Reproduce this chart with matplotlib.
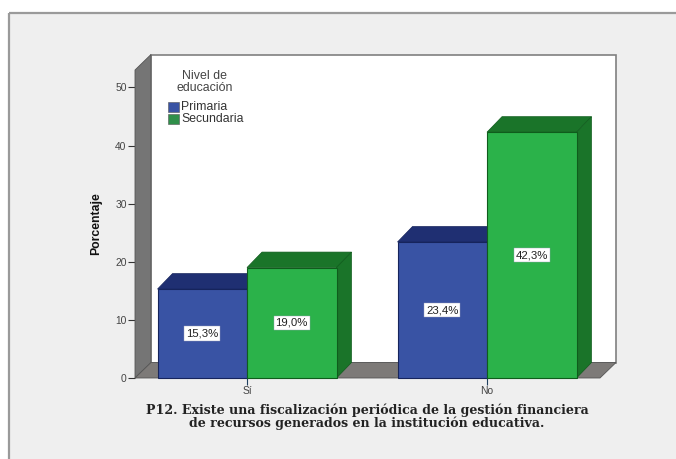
import matplotlib
matplotlib.use("Agg")
import matplotlib.pyplot as plt
from matplotlib.patches import Polygon, Rectangle

categories = ["Sí", "No"]
series_names = ["Primaria", "Secundaria"]
primaria = [15.3, 23.4]
secundaria = [19.0, 42.3]
value_labels = [["15,3%", "23,4%"], ["19,0%", "42,3%"]]
y_ticks = [0, 10, 20, 30, 40, 50]
legend_title = "Nivel de\neducación"
y_label = "Porcentaje"
x_title = ("P12. Existe una fiscalización periódica de la gestión financiera\n"
           "de recursos generados en la institución educativa.")

W, H = 676, 459
fig = plt.figure(figsize=(W / 100, H / 100), dpi=100, facecolor="white")

# panel background (no right/bottom border in the reference)
bg = fig.add_axes([0, 0, 1, 1], zorder=0)
bg.set_xlim(0, W); bg.set_ylim(H, 0); bg.axis("off")
bg.add_patch(Rectangle((9, 13), W, H, fc="#efefef", ec="none"))
bg.plot([9, 9], [H, 13], color="#9a9a9a", lw=1.6, solid_capstyle="butt")
bg.plot([9, W], [13, 13], color="#9a9a9a", lw=1.6, solid_capstyle="butt")

# main axes: front plane of the 3-D box
L, R, T, B = 135, 600, 70, 378
ax = fig.add_axes([L / W, 1 - B / H, (R - L) / W, (B - T) / H], zorder=1)
PX_PER_CAT = 240.0
ax.set_xlim((L - 247) / PX_PER_CAT, (R - 247) / PX_PER_CAT)
ymax = 53.0
ax.set_ylim(0, ymax)
ax.patch.set_visible(False)
for s in ax.spines.values():
    s.set_visible(False)

ppv = (B - T) / ymax
dx = 16 / PX_PER_CAT
dy = 15.5 / ppv
x0, x1 = ax.get_xlim()

GREY_WALL = "#757575"
GREY_FLOOR = "#7d7a78"
EDGE_GREY = "#555555"
kw = dict(clip_on=False)

# back wall, left wall, floor
ax.add_patch(Polygon([(x0 + dx, dy), (x1 + dx, dy), (x1 + dx, ymax + dy), (x0 + dx, ymax + dy)],
                     fc="white", ec="#808080", lw=1.2, zorder=1, **kw))
ax.add_patch(Polygon([(x0, 0), (x0 + dx, dy), (x0 + dx, ymax + dy), (x0, ymax)],
                     fc=GREY_WALL, ec=EDGE_GREY, lw=0.6, zorder=2, **kw))
ax.add_patch(Polygon([(x0, 0), (x1, 0), (x1 + dx, dy), (x0 + dx, dy)],
                     fc=GREY_FLOOR, ec=EDGE_GREY, lw=0.6, zorder=2, **kw))

width = 89.5 / PX_PER_CAT
d_bar = 15 / PX_PER_CAT
d_val = 15.5 / ppv
styles = [("#3953a4", "#1f2f72", "#16245c"), ("#2bb24a", "#1a7429", "#0f5c1c")]
all_series = [primaria, secundaria]

# draw order: left-to-right so the front face of the neighbour overlaps the depth
for c in range(len(categories)):
    for s, vals in enumerate(all_series):
        v = vals[c]
        left = c - width if s == 0 else c
        right = left + width
        front, side, edge = styles[s]
        z = 3 + c + s * 0.1
        ax.add_patch(Polygon([(left, v), (right, v), (right + d_bar, v + d_val), (left + d_bar, v + d_val)],
                             fc=side, ec=edge, lw=0.5, zorder=z, **kw))
        ax.add_patch(Polygon([(right, 0), (right + d_bar, d_val), (right + d_bar, v + d_val), (right, v)],
                             fc=side, ec=edge, lw=0.5, zorder=z, **kw))
        ax.add_patch(Rectangle((left, 0), width, v, fc=front, ec=edge, lw=0.8, zorder=z + 0.01, **kw))

for c in range(len(categories)):
    for s, vals in enumerate(all_series):
        v = vals[c]
        left = c - width if s == 0 else c
        ax.text(left + width / 2, v / 2, value_labels[s][c], ha="center", va="center",
                fontsize=8.2, color="#222222", family="Liberation Sans", zorder=10,
                bbox=dict(fc="white", ec="#9aa0b8", lw=0.3, pad=1.5))

ax.set_yticks(y_ticks)
ax.set_xticks(range(len(categories)))
ax.set_xticklabels(categories)
ax.tick_params(axis="y", length=5, width=0.8, color="#333333", labelsize=7.4,
               labelcolor="#444444", pad=1)
ax.tick_params(axis="x", length=5, width=0.8, color="#1f3f5f", labelsize=7.4,
               labelcolor="#444444", pad=1)
for lab in ax.get_xticklabels() + ax.get_yticklabels():
    lab.set_family("Liberation Sans")

ax.set_ylabel(y_label, fontsize=8.8, fontweight="bold", family="Liberation Sans",
              color="#111111", labelpad=0)
ax.yaxis.set_label_coords((102 - L) / (R - L), (B - 224) / (B - T))

fig.text(367 / W, 1 - 417 / H, x_title, ha="center", va="center", fontsize=9.1,
         fontweight="bold", family="DejaVu Serif", color="#222222", linespacing=0.95)

# legend
fig.text(205 / W, 1 - 82 / H, legend_title, ha="center", va="center", fontsize=8.9,
         family="Liberation Sans", color="#444444", linespacing=0.95)
for i, name in enumerate(series_names):
    yc = 106.5 + i * 12
    swatch = Rectangle((168 / W, 1 - (yc + 5) / H), 11 / W, 10 / H, transform=fig.transFigure,
                       fc=styles[i][0] if i == 0 else "#2f8f4a", ec="#555555", lw=0.4, zorder=20)
    fig.add_artist(swatch)
    fig.text(181 / W, 1 - yc / H, name, ha="left", va="center", fontsize=8.8,
             family="Liberation Sans", color="#333333", zorder=20)

fig.savefig("out.png", dpi=100, facecolor=fig.get_facecolor())
